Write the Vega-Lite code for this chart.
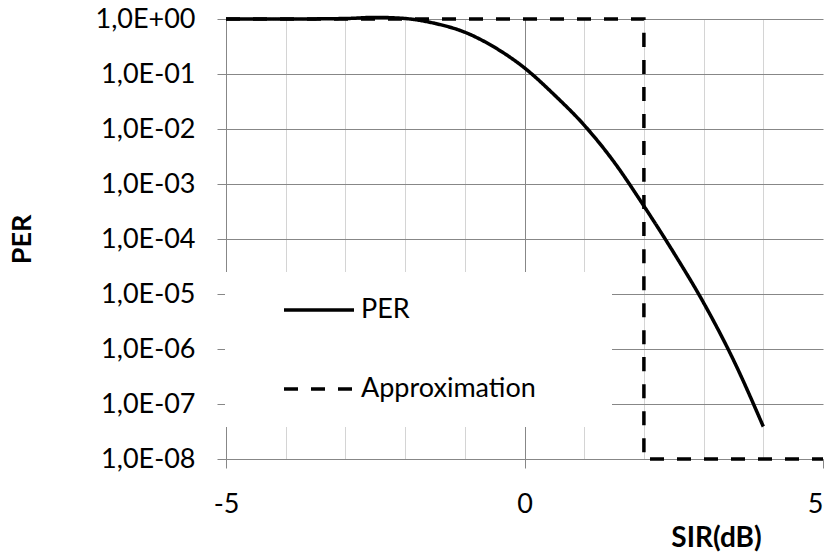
{
  "$schema": "https://vega.github.io/schema/vega-lite/v6.json",
  "width": 597,
  "height": 440,
  "autosize": "none",
  "padding": {"left": 226, "top": 19, "right": 5, "bottom": 95},
  "background": "white",
  "config": {
    "view": {"stroke": null},
    "font": "Lato"
  },
  "data": {
    "values": [
      {"x": -5, "y": 1, "series": "PER"},
      {"x": -4, "y": 1, "series": "PER"},
      {"x": -3, "y": 1.02, "series": "PER"},
      {"x": -2.5, "y": 1.07, "series": "PER"},
      {"x": -2, "y": 1.02, "series": "PER"},
      {"x": -1.5, "y": 0.832, "series": "PER"},
      {"x": -1, "y": 0.575, "series": "PER"},
      {"x": -0.5, "y": 0.305, "series": "PER"},
      {"x": 0, "y": 0.129, "series": "PER"},
      {"x": 0.5, "y": 0.0417, "series": "PER"},
      {"x": 1, "y": 0.01175, "series": "PER"},
      {"x": 1.5, "y": 0.00251, "series": "PER"},
      {"x": 2, "y": 0.000398, "series": "PER"},
      {"x": 2.5, "y": 0.0000562, "series": "PER"},
      {"x": 3, "y": 0.00000692, "series": "PER"},
      {"x": 3.5, "y": 0.000000631, "series": "PER"},
      {"x": 4, "y": 0.0000000389, "series": "PER"},
      {"x": -5, "y": 1, "series": "Approximation"},
      {"x": 2, "y": 1, "series": "Approximation"},
      {"x": 2, "y": 0.00000001, "series": "Approximation"},
      {"x": 5, "y": 0.00000001, "series": "Approximation"}
    ]
  },
  "mark": {"type": "line", "color": "black", "strokeWidth": 3.5, "interpolate": "monotone", "clip": false},
  "encoding": {
    "x": {
      "field": "x",
      "type": "quantitative",
      "scale": {"domain": [-5, 5], "nice": false, "zero": false},
      "axis": {
        "values": [-5, -4, -3, -2, -1, 0, 1, 2, 3, 4, 5],
        "labelExpr": "datum.value % 5 === 0 ? '' + datum.value : ''",
        "labelFont": "Lato",
        "labelFontSize": 27,
        "labelColor": "black",
        "labelBaseline": "alphabetic",
        "labelAlign": {"condition": {"test": "datum.value === 5", "value": "right"}, "value": "center"},
        "labelPadding": 44,
        "labelFlush": false,
        "labelOverlap": false,
        "tickSize": 9,
        "tickColor": "#878787",
        "tickOpacity": {"condition": {"test": "datum.value % 5 === 0", "value": 1}, "value": 0},
        "domainColor": "#878787",
        "grid": true,
        "gridColor": {"condition": {"test": "datum.value === 0", "value": "#878787"}, "value": "#d4d4d4"},
        "gridOpacity": {"condition": {"test": "abs(datum.value) === 5", "value": 0}, "value": 1},
        "title": "SIR(dB)",
        "titleFont": "Lato",
        "titleFontSize": 28,
        "titleFontWeight": "bold",
        "titleColor": "black",
        "titleX": 490,
        "titleY": 87,
        "titleAlign": "center",
        "titleBaseline": "alphabetic"
      }
    },
    "y": {
      "field": "y",
      "type": "quantitative",
      "scale": {"type": "log", "domain": [0.00000001, 1], "nice": false},
      "axis": {
        "values": [0.00000001, 0.0000001, 0.000001, 0.00001, 0.0001, 0.001, 0.01, 0.1, 1],
        "labelExpr": "'1,0E' + (datum.value >= 0.5 ? '+' : '-') + '0' + abs(round(log(datum.value) / LN10))",
        "labelFont": "Lato",
        "labelFontSize": 27,
        "labelColor": "black",
        "labelPadding": 22,
        "labelOverlap": false,
        "labelFlush": false,
        "tickSize": 9,
        "tickColor": "#878787",
        "domainColor": "#878787",
        "grid": true,
        "gridColor": "#878787",
        "title": "PER",
        "titleFont": "Lato",
        "titleFontSize": 27,
        "titleFontWeight": "bold",
        "titleColor": "black",
        "titleX": -204,
        "titleY": 220,
        "titleAngle": -90,
        "titleAlign": "center",
        "titleBaseline": "middle"
      }
    },
    "strokeDash": {
      "field": "series",
      "type": "nominal",
      "scale": {"domain": ["PER", "Approximation"], "range": [[1, 0], [14, 13]]},
      "legend": {
        "orient": "none",
        "legendX": -1,
        "legendY": 253,
        "title": null,
        "fillColor": "white",
        "strokeColor": null,
        "padding": 24.5,
        "symbolType": "M-5,0H5M37.29,0",
        "symbolSize": 196,
        "symbolStrokeWidth": 3.5,
        "symbolStrokeColor": "black",
        "symbolFillColor": "transparent",
        "symbolOffset": 56,
        "labelOffset": 28.5,
        "labelFont": "Lato",
        "labelFontSize": 27,
        "labelColor": "black",
        "labelLimit": 400,
        "rowPadding": 51
      }
    },
    "order": {"value": null}
  }
}
